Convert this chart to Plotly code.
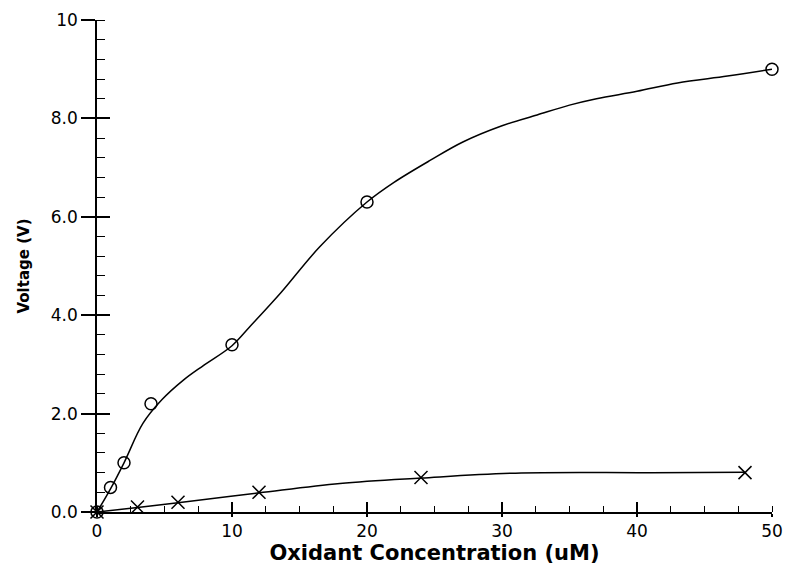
import plotly.graph_objects as go

# Measured points: oxidant concentration (uM) vs voltage (V)
circle_x = [0, 1, 2, 4, 10, 20, 50]
circle_y = [0.0, 0.5, 1.0, 2.2, 3.4, 6.3, 9.0]

cross_x = [0, 3, 6, 12, 24, 48]
cross_y = [0.0, 0.1, 0.2, 0.4, 0.7, 0.8]

# Smoothed fit curves drawn through the measurements
circle_fit_x = [0, 1, 2, 3.4, 4.8, 6.4, 7.9, 10, 11.3, 13.6, 16.5, 20, 22, 24.7,
                27.1, 30, 32.6, 35, 37, 40, 43, 46.7, 50]
circle_fit_y = [0.0, 0.47, 1.0, 1.8, 2.28, 2.68, 2.98, 3.38, 3.76, 4.45, 5.39, 6.3,
                6.7, 7.15, 7.52, 7.85, 8.07, 8.27, 8.4, 8.55, 8.72, 8.86, 9.0]

cross_fit_x = [0, 3, 6, 12, 18, 24, 31, 41, 48]
cross_fit_y = [0.0, 0.09, 0.19, 0.39, 0.58, 0.69, 0.79, 0.80, 0.81]

x_ticks = [0, 10, 20, 30, 40, 50]
y_ticks = [0, 2, 4, 6, 8, 10]
y_tick_text = ["0.0", "2.0", "4.0", "6.0", "8.0", "10"]

fig = go.Figure()

fig.add_trace(go.Scatter(x=circle_fit_x, y=circle_fit_y, mode="lines",
                         line=dict(color="black", width=1.5, shape="spline"),
                         hoverinfo="skip", showlegend=False))
fig.add_trace(go.Scatter(x=cross_fit_x, y=cross_fit_y, mode="lines",
                         line=dict(color="black", width=1.5, shape="spline"),
                         hoverinfo="skip", showlegend=False))
fig.add_trace(go.Scatter(x=circle_x, y=circle_y, mode="markers",
                         marker=dict(symbol="circle-open", size=12, color="black",
                                     line=dict(width=1.5, color="black")),
                         showlegend=False, cliponaxis=False))
fig.add_trace(go.Scatter(x=cross_x, y=cross_y, mode="markers",
                         marker=dict(symbol="x-thin-open", size=13, color="black",
                                     line=dict(width=1.5, color="black")),
                         showlegend=False, cliponaxis=False))

# invisible trace to carry the overlay axes (inner half of major ticks)
fig.add_trace(go.Scatter(x=[0, 50], y=[0, 10], xaxis="x2", yaxis="y2", mode="none",
                         hoverinfo="skip", showlegend=False))

tick_font = dict(family="DejaVu Sans, sans-serif", size=17, color="black")
title_family = "DejaVu Sans, sans-serif"

fig.update_layout(
    width=786, height=570,
    margin=dict(l=97, r=14, t=20, b=58),
    plot_bgcolor="white", paper_bgcolor="white",
    xaxis=dict(range=[0, 50], tickvals=x_ticks, ticks="outside", ticklen=3,
               tickwidth=1.5, tickcolor="black", showline=True, linecolor="black",
               linewidth=1.5, showgrid=False, zeroline=False, tickfont=tick_font,
               automargin=False,
               minor=dict(dtick=2.5, ticks="inside", ticklen=6, tickwidth=1.2,
                          tickcolor="black", showgrid=False),
               title=dict(text="<b>Oxidant Concentration (uM)</b>",
                          font=dict(family=title_family, size=21, color="black"),
                          standoff=2)),
    yaxis=dict(range=[0, 10], tickvals=y_ticks, ticktext=y_tick_text,
               ticks="outside", ticklen=14, tickwidth=1.5, tickcolor="black",
               showline=True, linecolor="black", linewidth=1.5, showgrid=False,
               zeroline=False, tickfont=tick_font, automargin=False,
               minor=dict(dtick=0.4, ticks="inside", ticklen=8, tickwidth=1.2,
                          tickcolor="black", showgrid=False),
               title=dict(text="<b>Voltage (V)</b>",
                          font=dict(family=title_family, size=15, color="black"),
                          standoff=18)),
    xaxis2=dict(range=[0, 50], overlaying="x", tickvals=x_ticks, ticks="inside",
                ticklen=10, tickwidth=1.5, tickcolor="black", showticklabels=False,
                showgrid=False, zeroline=False, showline=False, side="bottom",
                automargin=False),
    yaxis2=dict(range=[0, 10], overlaying="y", tickvals=y_ticks, ticks="inside",
                ticklen=13, tickwidth=1.5, tickcolor="black", showticklabels=False,
                showgrid=False, zeroline=False, showline=False, side="left",
                automargin=False),
)

fig.write_html("out.html")
